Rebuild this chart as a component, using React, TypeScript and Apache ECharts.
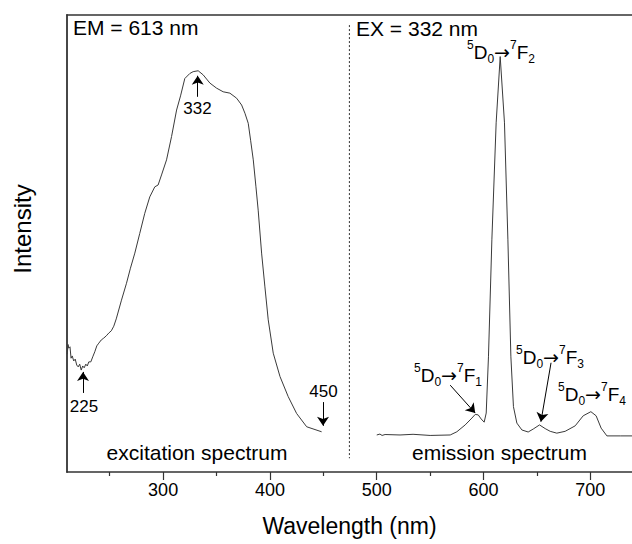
import React, { useEffect, useRef } from "react";
import * as echarts from "echarts";

const FONT = '"Liberation Sans", Arial, sans-serif';

// Excitation spectrum (EM = 613 nm): [wavelength nm, intensity a.u.]
const excitation: [number, number][] = [
  [210.2, 25.8], [211.0, 27.9], [211.6, 27.1], [212.8, 27.4], [213.8, 24.9], [214.9, 25.4],
  [216.3, 24.3], [217.7, 24.7], [219.1, 23.4], [220.5, 23.0], [221.9, 23.6],
  [223.3, 22.3], [224.7, 23.2], [226.1, 22.8], [227.6, 23.6], [229.0, 23.2],
  [230.4, 24.1], [232.3, 24.1], [234.1, 25.2], [236.0, 26.3], [237.9, 27.6],
  [239.8, 28.2], [242.1, 28.9], [244.4, 29.3], [246.8, 29.8], [249.1, 30.4],
  [251.5, 30.9], [253.8, 31.9], [256.1, 33.5], [261.0, 37.6], [265.7, 41.3],
  [269.4, 44.6], [273.5, 47.9], [278.1, 52.2], [282.8, 56.6], [287.5, 60.2],
  [292.2, 62.4], [295.3, 62.8], [298.5, 65.0], [303.2, 68.3], [307.9, 73.4],
  [312.6, 79.2], [316.3, 82.3], [320.3, 86.1], [325.0, 87.2], [328.1, 87.6],
  [332.8, 87.8], [337.5, 86.9], [343.8, 85.1], [350.0, 84.0], [356.2, 83.2],
  [362.5, 82.9], [368.8, 81.8], [373.5, 80.3], [376.6, 78.5], [379.7, 76.3],
  [381.9, 72.6], [384.4, 68.3], [386.9, 62.4], [389.0, 57.3], [392.2, 47.9],
  [395.3, 40.5], [398.4, 33.3], [403.1, 26.0], [409.4, 20.9], [417.1, 16.5],
  [425.0, 12.8], [434.4, 9.9], [448.4, 8.8],
];

// Emission spectrum (EX = 332 nm)
const emission: [number, number][] = [
  [500.0, 8.1], [503.0, 8.3], [505.0, 8.0], [507.8, 8.2], [521.8, 8.1],
  [534.0, 8.25], [550.0, 8.0], [568.8, 8.1], [575.0, 8.8], [582.8, 10.3],
  [589.1, 11.8], [592.2, 12.6], [595.0, 12.5], [597.8, 11.6], [600.6, 10.9],
  [602.5, 12.9], [604.6, 25.2], [607.8, 50.8], [611.8, 76.4], [615.6, 90.9],
  [619.6, 76.4], [622.8, 50.8], [625.6, 25.2], [628.0, 14.3], [631.2, 10.7],
  [635.9, 9.2], [641.8, 8.75], [646.5, 9.4], [652.4, 10.3], [657.7, 9.5],
  [662.4, 8.9], [668.6, 8.5], [676.4, 8.9], [685.8, 10.1], [693.3, 12.3],
  [700.5, 13.2], [705.4, 12.3], [710.1, 9.6], [715.5, 7.9], [728.0, 7.9],
  [739.0, 7.9],
];

// Divider between the two spectra
const divider: [number, number][] = [[474.4, 97.8], [474.4, 3.0]];

const majorTicks = [300, 400, 500, 600, 700];
const minorTicks = [250, 350, 450, 550, 650];

// Arrows: [from, to] in data units
const excitationArrows: [[number, number], [number, number]][] = [
  [[225, 17.3], [225, 21.9]],
  [[332.4, 82.1], [332.4, 86.7]],
  [[449.7, 15.3], [449.7, 10.1]],
];
const emissionArrows: [[number, number], [number, number]][] = [
  [[568.8, 19.0], [592.2, 12.9]],
  [[663.2, 23.9], [653.7, 11.0]],
];

const transitionRich = {
  m: { fontSize: 19, fontFamily: FONT, lineHeight: 26, verticalAlign: "middle", fill: "#000" },
  ar: { fontSize: 19, fontFamily: '"DejaVu Sans", sans-serif', lineHeight: 26, verticalAlign: "middle", fill: "#000" },
  sup: { fontSize: 12, fontFamily: FONT, lineHeight: 12, verticalAlign: "top", fill: "#000" },
  sub: { fontSize: 12, fontFamily: FONT, lineHeight: 12, verticalAlign: "bottom", fill: "#000" },
};

const transition = (n: string) => `{sup|5}{m|D}{sub|0}{ar|→}{sup|7}{m|F}{sub|${n}}`;

export default function App() {
  const ref = useRef<HTMLDivElement>(null);

  useEffect(() => {
    if (!ref.current) return;
    const chart = echarts.init(ref.current, undefined, { renderer: "svg" });
    const arrowLine = (arrows: [[number, number], [number, number]][]) => ({
      silent: true,
      symbol: ["none", "arrow"],
      symbolSize: 9,
      label: { show: false },
      lineStyle: { color: "#000", width: 1, type: "solid" },
      emphasis: { disabled: true },
      data: arrows.map(([a, b]) => [{ coord: a }, { coord: b }]),
    });
    const text = (t: string, x: number, y: number, size: number, align = "center", rotation = 0) => ({
      type: "text",
      x,
      y,
      rotation,
      silent: true,
      style: {
        text: t,
        fontSize: size,
        fontFamily: FONT,
        fill: "#000",
        textAlign: align,
        textVerticalAlign: "middle",
      },
    });
    const rich = (n: string, x: number, y: number) => ({
      type: "text",
      x,
      y,
      silent: true,
      style: {
        text: transition(n),
        rich: transitionRich,
        textAlign: "left",
        textVerticalAlign: "middle",
      },
    });

    chart.setOption({
      animation: false,
      grid: { left: 67, right: 0, top: 15, bottom: 72, containLabel: false },
      xAxis: [
        {
          type: "value",
          position: "bottom",
          min: 210,
          max: 739,
          name: "Wavelength (nm)",
          nameLocation: "middle",
          nameGap: 42,
          nameTextStyle: { fontSize: 23, fontFamily: FONT, color: "#000" },
          axisLine: { show: true, onZero: false, lineStyle: { color: "#333", width: 1.5 } },
          axisTick: { show: true, customValues: majorTicks, length: 8, inside: false, lineStyle: { color: "#333", width: 1.2 } },
          axisLabel: { show: true, customValues: majorTicks, margin: 9, fontSize: 18, fontFamily: FONT, color: "#000" },
          splitLine: { show: false },
        },
        {
          type: "value",
          position: "bottom",
          min: 210,
          max: 739,
          axisLine: { show: false, onZero: false },
          axisTick: { show: true, customValues: minorTicks, length: 4, inside: false, lineStyle: { color: "#333", width: 1.2 } },
          axisLabel: { show: false },
          splitLine: { show: false },
        },
        {
          type: "value",
          position: "top",
          min: 210,
          max: 739,
          axisLine: { show: true, onZero: false, lineStyle: { color: "#333", width: 1.5 } },
          axisTick: { show: false },
          axisLabel: { show: false },
          splitLine: { show: false },
        },
      ],
      yAxis: {
        type: "value",
        min: 0,
        max: 100,
        axisLine: { show: true, onZero: false, lineStyle: { color: "#333", width: 1.8 } },
        axisTick: { show: false },
        axisLabel: { show: false },
        splitLine: { show: false },
      },
      series: [
        {
          type: "line",
          name: "excitation",
          data: excitation,
          showSymbol: false,
          symbol: "none",
          lineStyle: { color: "#3a3a3a", width: 1 },
          silent: true,
          markLine: arrowLine(excitationArrows),
        },
        {
          type: "line",
          name: "emission",
          data: emission,
          showSymbol: false,
          symbol: "none",
          lineStyle: { color: "#3a3a3a", width: 1 },
          silent: true,
          markLine: arrowLine(emissionArrows),
        },
        {
          type: "line",
          name: "divider",
          data: divider,
          showSymbol: false,
          symbol: "none",
          lineStyle: { color: "#333", width: 1, type: [2, 2] },
          silent: true,
        },
      ],
      graphic: [
        text("Intensity", 22, 229, 24, "center", Math.PI / 2),
        text("EM = 613 nm", 73, 27, 21, "left"),
        text("EX = 332 nm", 356, 28, 21, "left"),
        text("332", 197.5, 108, 17),
        text("225", 84, 406, 17),
        text("450", 323.5, 391, 17),
        text("excitation spectrum", 197, 452, 21),
        text("emission spectrum", 499.5, 452, 21),
        rich("2", 467, 52),
        rich("1", 414, 375),
        rich("3", 516, 357),
        rich("4", 558, 394),
      ],
    });
    return () => chart.dispose();
  }, []);

  return (
    <div
      ref={ref}
      style={{ position: "fixed", left: 0, top: 0, width: 632, height: 544, background: "#fff" }}
    />
  );
}
